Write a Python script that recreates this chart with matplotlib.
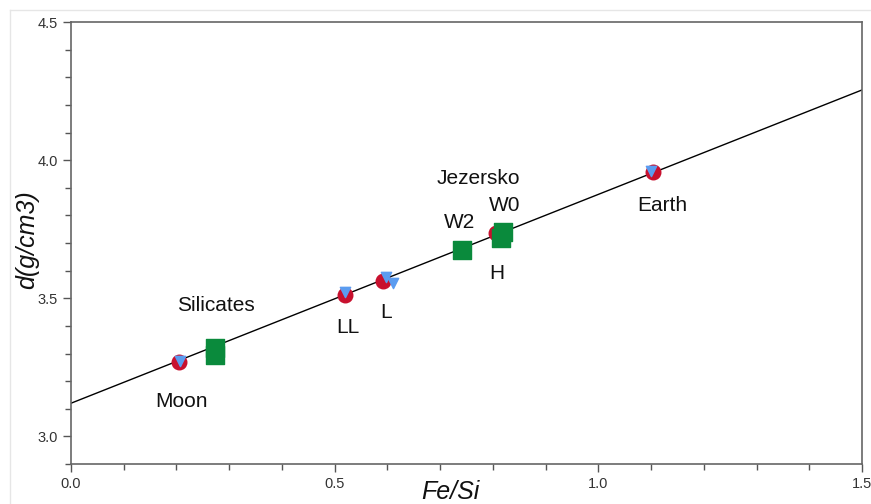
import matplotlib.pyplot as plt
from matplotlib.lines import Line2D
from matplotlib.ticker import MultipleLocator
import numpy as np

plt.rcParams['font.family'] = ['Liberation Sans', 'DejaVu Sans']

# fitted line
line_x = [0.0, 1.5]
line_y = [3.12, 4.254]

# chondrite / planet points (red circles)
red_x = [0.205, 0.519, 0.591, 0.806, 1.103]
red_y = [3.270, 3.512, 3.563, 3.735, 3.957]

# blue triangles
blue_x = [0.207, 0.519, 0.597, 0.611, 0.814, 1.100]
blue_y = [3.272, 3.522, 3.578, 3.555, 3.715, 3.960]

# green squares (Silicates, W2, W0, Jezersko)
green_x = [0.273, 0.273, 0.741, 0.816, 0.820]
green_y = [3.296, 3.320, 3.676, 3.717, 3.740]

labels = ['Moon', 'Silicates', 'LL', 'L', 'W2', 'W0', 'Jezersko', 'H', 'Earth']
label_x = [0.210, 0.275, 0.525, 0.597, 0.736, 0.823, 0.773, 0.807, 1.122]
label_y = [3.125, 3.475, 3.395, 3.450, 3.775, 3.835, 3.932, 3.590, 3.835]

fig = plt.figure(figsize=(8.71, 5.04), dpi=100)
ax = fig.add_axes([71 / 871, 40 / 504, 791 / 871, 442 / 504])

# faint page frame
fig.add_artist(Line2D([10 / 871, 1], [1 - 10 / 504, 1 - 10 / 504], color='#e6e6e6', lw=1))
fig.add_artist(Line2D([10 / 871, 10 / 871], [0, 1 - 10 / 504], color='#e6e6e6', lw=1))

ax.plot(line_x, line_y, color='black', lw=1, zorder=2)
ax.scatter(red_x, red_y, s=110, color='#c8102e', marker='o', zorder=3)
ax.scatter(blue_x, blue_y, s=55, color='#5b9cf0', marker='v', zorder=4)
ax.scatter(green_x, green_y, s=150, color='#0a8a3c', marker='s', zorder=5)

for t, x, y in zip(labels, label_x, label_y):
    ax.text(x, y, t, fontsize=15, ha='center', va='center', color='#111111')

ax.set_xlim(0, 1.5)
ax.set_ylim(2.9, 4.5)
ax.xaxis.set_major_locator(MultipleLocator(0.5))
ax.xaxis.set_minor_locator(MultipleLocator(0.1))
ax.yaxis.set_major_locator(MultipleLocator(0.5))
ax.yaxis.set_minor_locator(MultipleLocator(0.1))
ax.xaxis.set_major_formatter(plt.FormatStrFormatter('%.1f'))
ax.yaxis.set_major_formatter(plt.FormatStrFormatter('%.1f'))

ax.tick_params(which='both', direction='out', color='#555555', labelsize=10.5,
               labelcolor='#333333', width=1)
ax.tick_params(which='major', length=6)
ax.tick_params(which='minor', length=4)

for s in ax.spines.values():
    s.set_color('#666666')
    s.set_linewidth(1.2)

ax.set_xlabel('Fe/Si', fontsize=18, style='italic', color='#111111', va='center')
ax.xaxis.set_label_coords(0.48, -0.063)
ax.set_ylabel('d(g/cm3)', fontsize=18, style='italic', color='#111111')
ax.yaxis.set_label_coords(-0.04, 0.507)

fig.savefig('out.png', dpi=100)
